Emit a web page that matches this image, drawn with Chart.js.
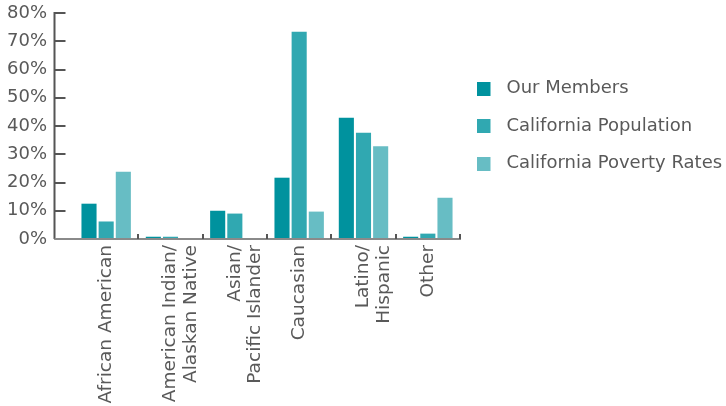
<!DOCTYPE html>
<html>
<head>
<meta charset="utf-8">
<script src="https://cdn.jsdelivr.net/npm/chart.js@4.4.1/dist/chart.umd.min.js"></script>
<style>
  body { margin: 0; background: #fff; }
</style>
</head>
<body>
<canvas id="chart" width="726" height="406"></canvas>
<script>
// categories on the x axis (multi-line where the original wraps)
var categories = [
  "African American",
  ["American Indian/", "Alaskan Native"],
  ["Asian/", "Pacific Islander"],
  "Caucasian",
  ["Latino/", "Hispanic"],
  "Other"
];

// percentages
var ourMembers = [12.5, 0.8, 10.0, 21.7, 42.9, 0.8];
var caPopulation = [6.2, 0.8, 9.0, 73.4, 37.6, 1.9];
var caPoverty = [23.8, 0, 0, 9.7, 32.8, 14.6];

var seriesNames = ["Our Members", "California Population", "California Poverty Rates"];
var seriesColors = ["#00929e", "#30a8b1", "#67bdc4"];

var yTicks = [0, 10, 20, 30, 40, 50, 60, 70, 80];

var textColor = "#595959";

// legend swatch: square sitting at the left of a wider canvas
function swatch(color) {
  var c = document.createElement("canvas");
  c.width = 24;
  c.height = 14;
  var g = c.getContext("2d");
  g.fillStyle = color;
  g.fillRect(0, 0, 14, 14);
  return c;
}

// axis lines and little tick marks drawn the way the original has them
var axesPlugin = {
  id: "axesPlugin",
  afterInit: function(chart) {
    // the right legend is capped at a quarter of the width by default, let it be wide enough
    var lg = chart.legend;
    var fit = lg.fit.bind(lg);
    lg.fit = function() {
      fit();
      this.width = 266;
    };
  },
  afterDatasetsDraw: function(chart) {
    var ctx = chart.ctx;
    var xs = chart.scales.x;
    var ys = chart.scales.y;
    var area = chart.chartArea;
    var axisX = area.left - 19.5;
    var baseY = ys.getPixelForValue(0);
    ctx.save();
    // y axis line + ticks pointing inwards
    ctx.strokeStyle = "#555555";
    ctx.lineWidth = 2;
    ctx.beginPath();
    ctx.moveTo(axisX, ys.getPixelForValue(80) - 1);
    ctx.lineTo(axisX, baseY);
    yTicks.forEach(function(v) {
      var py = Math.round(ys.getPixelForValue(v));
      ctx.moveTo(axisX, py);
      ctx.lineTo(axisX + 11, py);
    });
    ctx.stroke();
    // x axis line
    ctx.strokeStyle = "#8a8a8a";
    ctx.beginPath();
    ctx.moveTo(axisX, baseY);
    ctx.lineTo(area.right + 1, baseY);
    ctx.stroke();
    // category boundary ticks pointing up
    ctx.strokeStyle = "#555555";
    ctx.beginPath();
    for (var i = 0; i < categories.length; i++) {
      var px = Math.round(xs.getPixelForValue(i + 0.5));
      ctx.moveTo(px, baseY);
      ctx.lineTo(px, baseY - 5);
    }
    ctx.stroke();
    ctx.restore();
  }
};

var data = [ourMembers, caPopulation, caPoverty];

new Chart(document.getElementById("chart"), {
  type: "bar",
  data: {
    labels: categories,
    datasets: data.map(function(values, i) {
      return {
        label: seriesNames[i],
        data: values,
        backgroundColor: seriesColors[i],
        borderWidth: 0,
        categoryPercentage: 0.8,
        barPercentage: 0.88
      };
    })
  },
  options: {
    responsive: false,
    animation: false,
    layout: { padding: { left: 7, top: 0, right: 0, bottom: 0 } },
    plugins: {
      tooltip: { enabled: false },
      legend: {
        position: "right",
        fullSize: false,
        labels: {
          color: textColor,
          font: { family: "DejaVu Sans", size: 18 },
          usePointStyle: true,
          boxWidth: 18,
          boxHeight: 14,
          padding: 19.5,
          generateLabels: function(chart) {
            var items = Chart.defaults.plugins.legend.labels.generateLabels(chart);
            items.forEach(function(it, i) {
              it.pointStyle = swatch(seriesColors[i]);
            });
            return items;
          }
        }
      }
    },
    scales: {
      x: {
        grid: { display: false, drawTicks: false },
        border: { display: false },
        afterFit: function(scale) {
          scale.height = 167;
          scale.paddingLeft = 0;
          scale.paddingRight = 0;
        },
        ticks: {
          color: textColor,
          font: { family: "DejaVu Sans", size: 18.5, lineHeight: 1.1 },
          minRotation: 90,
          maxRotation: 90,
          padding: 6,
          autoSkip: false
        }
      },
      y: {
        min: 0,
        max: 80,
        grid: { display: false, drawTicks: false },
        border: { display: false },
        afterFit: function(scale) {
          // keep the wide label gap from pushing the plot around
          scale.width = 67;
          scale.paddingTop = 13;
          scale.paddingBottom = 10;
        },
        ticks: {
          stepSize: 10,
          color: textColor,
          font: { family: "DejaVu Sans", size: 18 },
          padding: 27,
          callback: function(v) { return v + "%"; }
        }
      }
    }
  },
  plugins: [axesPlugin]
});
</script>
</body>
</html>
